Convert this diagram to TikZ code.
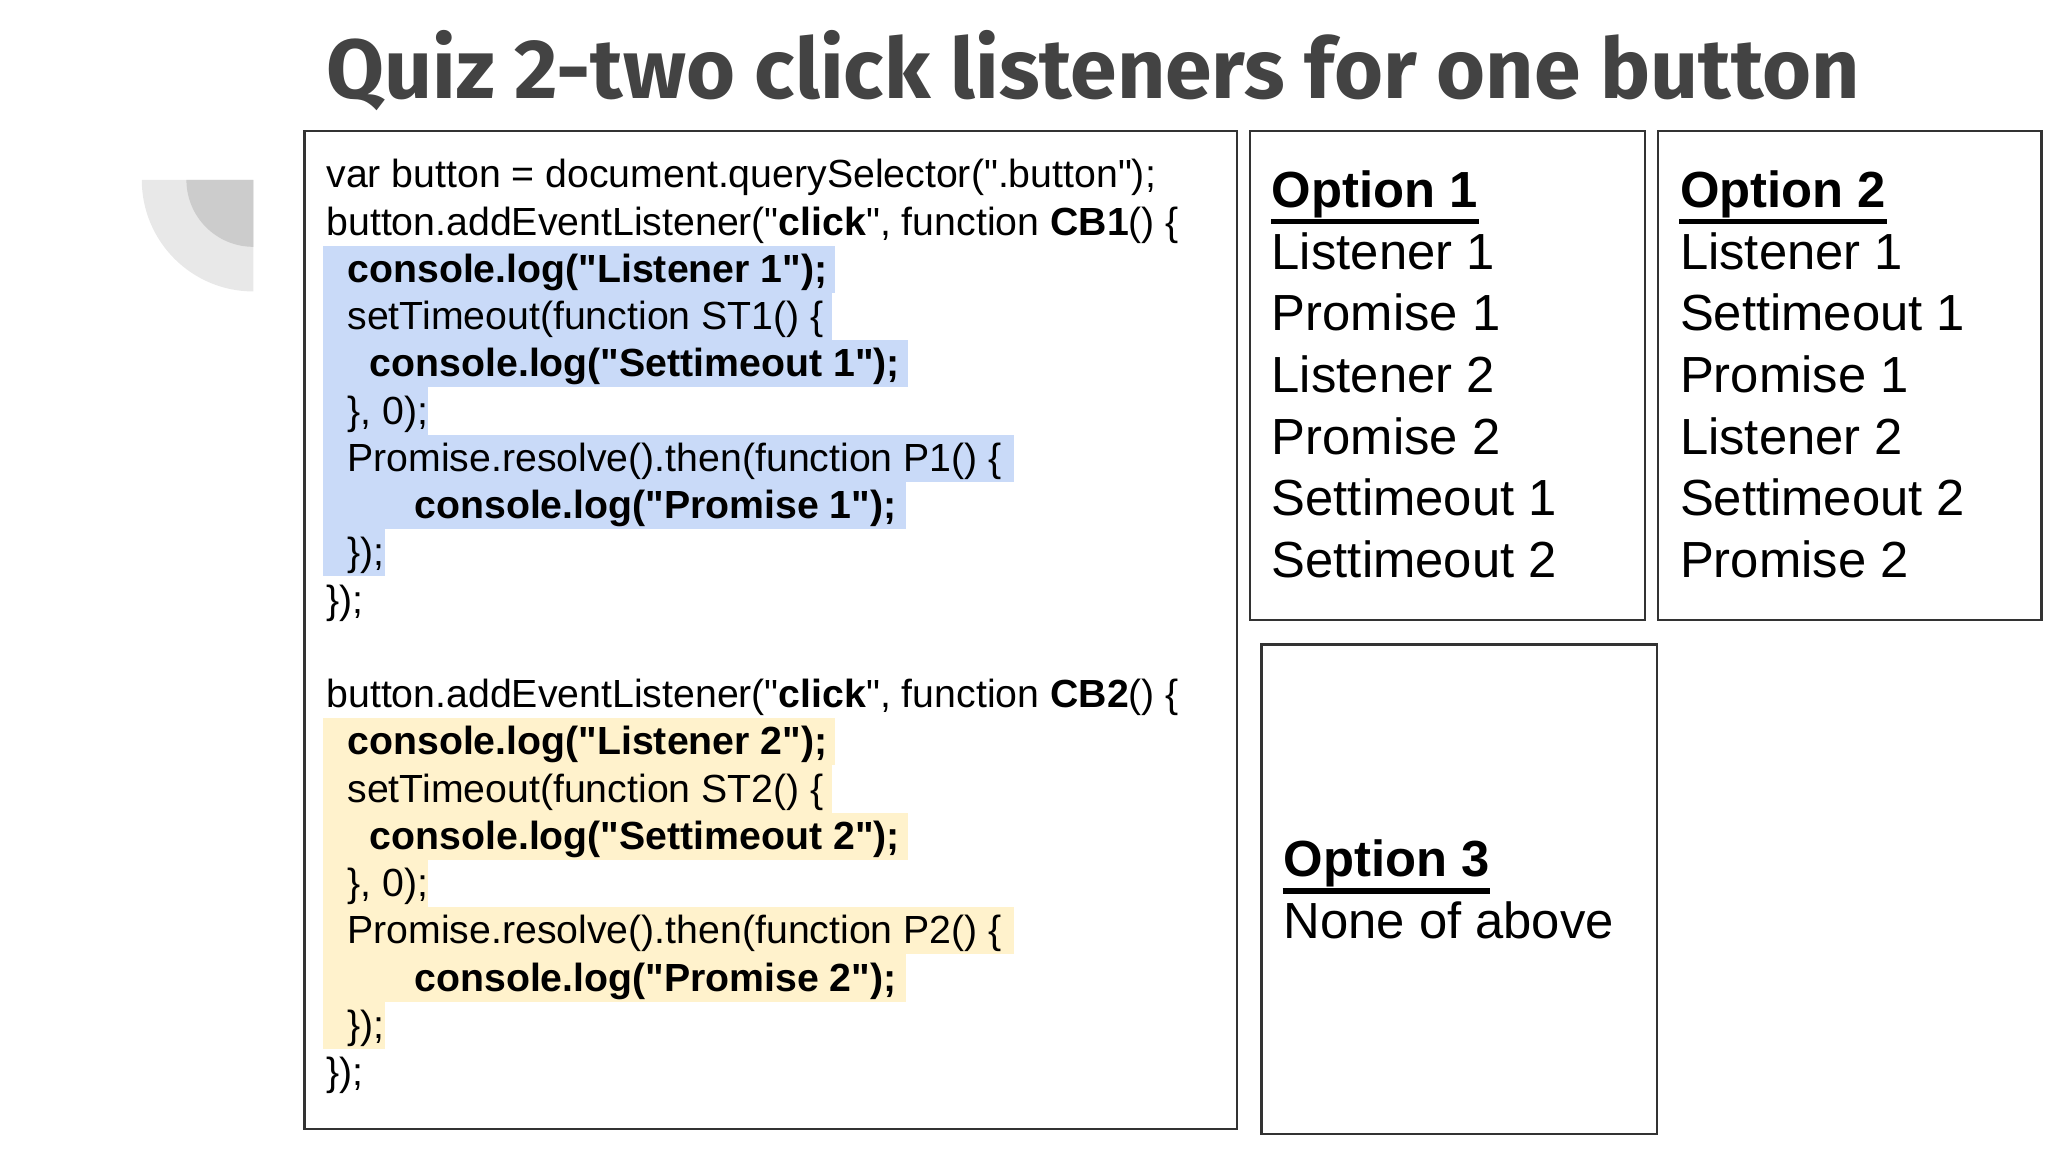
\documentclass[tikz,border=0pt]{standalone}
\usepackage{fontspec}
\setmainfont{Liberation Sans}[Ligatures=TeXOff]
\newfontfamily\titlefont{Fira Sans}
\newcommand\qq{"}
\definecolor{hlb}{HTML}{C9DAF8}
\definecolor{hly}{HTML}{FFF2CC}
\definecolor{ttl}{HTML}{434343}
\begin{document}
\begin{tikzpicture}[x=0.01cm,y=-0.01cm,
  code/.style={anchor=base west,inner sep=0,font=\fontsize{8.5pt}{10pt}\selectfont},
  opt/.style={anchor=base west,inner sep=0,font=\fontsize{11pt}{13pt}\selectfont},
  box/.style={draw=black!80,line width=0.5pt}]
\useasboundingbox (0,0) rectangle (1560,878);
\fill[black!9] (193,137) -- (108,137) arc[start angle=180,end angle=90,radius=85] -- cycle;
\fill[black!20] (193,137) -- (142,137) arc[start angle=180,end angle=90,radius=51] -- cycle;
\node[anchor=base west,inner sep=0,text=ttl,font=\titlefont\bfseries\fontsize{18.2pt}{20pt}\selectfont] (title) at (248,75) {Quiz 2-two click listeners for one button};
\draw[box] (232,100) rectangle (942,860);
\draw[box] (952,100) rectangle (1253,472);
\draw[box] (1263,100) rectangle (1555,472);
\draw[box] (961,491) rectangle (1262,864);
\foreach \i/\w in {3/636,4/634,5/692,6/326,7/772,8/690,9/293}{
  \fill[hlb] (246,{143+36*(\i-1)-28}) rectangle (\w,{143+36*(\i-1)+8});}
\foreach \i/\w in {13/636,14/634,15/692,16/326,17/772,18/690,19/293}{
  \fill[hly] (246,{143+36*(\i-1)-28}) rectangle (\w,{143+36*(\i-1)+8});}
\node[code] (c1) at (248,143) {var button = document.querySelector(\qq.button\qq);};
\node[code] (c2) at (248,179) {button.addEventListener(\qq\textbf{click}\qq, function \textbf{CB1}() \{};
\node[code] (c3) at (264,215) {\textbf{console.log(\qq Listener 1\qq);}};
\node[code] (c4) at (264,251) {setTimeout(function ST1() \{};
\node[code] (c5) at (281,287) {\textbf{console.log(\qq Settimeout 1\qq);}};
\node[code] (c6) at (264,323) {\}, 0);};
\node[code] (c7) at (264,359) {Promise.resolve().then(function P1() \{};
\node[code] (c8) at (315,395) {\textbf{console.log(\qq Promise 1\qq);}};
\node[code] (c9) at (264,431) {\});};
\node[code] (c10) at (248,467) {\});};
\node[code] (c12) at (248,539) {button.addEventListener(\qq\textbf{click}\qq, function \textbf{CB2}() \{};
\node[code] (c13) at (264,575) {\textbf{console.log(\qq Listener 2\qq);}};
\node[code] (c14) at (264,611) {setTimeout(function ST2() \{};
\node[code] (c15) at (281,647) {\textbf{console.log(\qq Settimeout 2\qq);}};
\node[code] (c16) at (264,683) {\}, 0);};
\node[code] (c17) at (264,719) {Promise.resolve().then(function P2() \{};
\node[code] (c18) at (315,755) {\textbf{console.log(\qq Promise 2\qq);}};
\node[code] (c19) at (264,791) {\});};
\node[code] (c20) at (248,827) {\});};
\node[opt] (o1) at (968,158) {\textbf{Option 1}};
\node[opt] (o1a) at (968,205) {Listener 1};
\node[opt] (o1b) at (968,252) {Promise 1};
\node[opt] (o1c) at (968,299) {Listener 2};
\node[opt] (o1d) at (968,346) {Promise 2};
\node[opt] (o1e) at (968,393) {Settimeout 1};
\node[opt] (o1f) at (968,440) {Settimeout 2};
\node[opt] (o2) at (1279,158) {\textbf{Option 2}};
\node[opt] (o2a) at (1279,205) {Listener 1};
\node[opt] (o2b) at (1279,252) {Settimeout 1};
\node[opt] (o2c) at (1279,299) {Promise 1};
\node[opt] (o2d) at (1279,346) {Listener 2};
\node[opt] (o2e) at (1279,393) {Settimeout 2};
\node[opt] (o2f) at (1279,440) {Promise 2};
\node[opt] (o3) at (977,668) {\textbf{Option 3}};
\node[opt] (o3a) at (977,715) {None of above};
\foreach \n in {o1,o2,o3}{\draw[line width=1.2pt] ([yshift=-3pt]\n.base west) -- ([yshift=-3pt]\n.base east);}
\end{tikzpicture}
\end{document}
